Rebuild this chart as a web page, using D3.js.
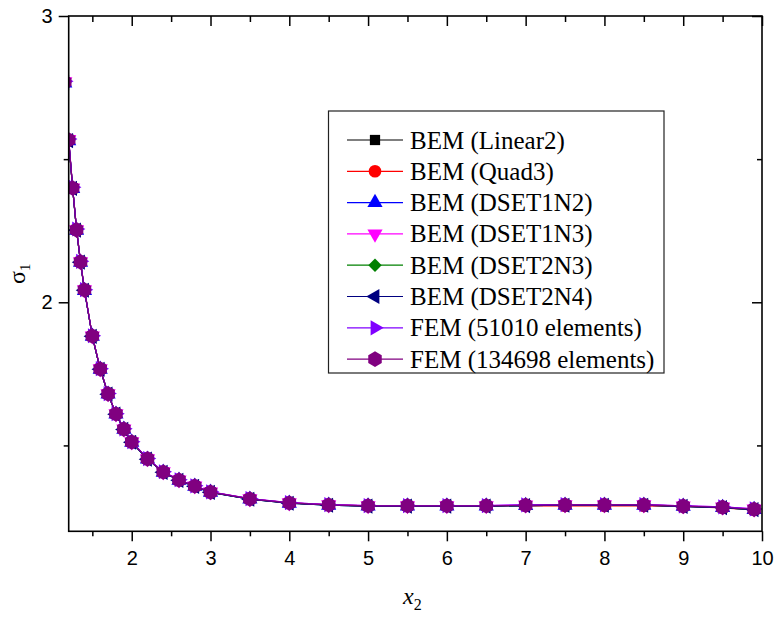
<!DOCTYPE html>
<html>
<head>
<meta charset="utf-8">
<script src="https://cdn.jsdelivr.net/npm/d3@7"></script>
<style>
  html, body { margin: 0; padding: 0; background: #fff; }
  svg { display: block; }
</style>
</head>
<body>
<svg id="chart" width="777" height="619"></svg>
<script>
// ---------------- DATA ----------------
const xValues = [1.15, 1.2, 1.25, 1.3, 1.35, 1.4, 1.5, 1.6, 1.7, 1.8, 1.9, 2.0, 2.2, 2.4, 2.6, 2.8, 3.0,
                 3.5, 4.0, 4.5, 5.0, 5.5, 6.0, 6.5, 7.0, 7.5, 8.0, 8.5, 9.0, 9.5, 9.9];

const bemLinear2  = [2.769, 2.567, 2.399, 2.253, 2.141, 2.043, 1.882, 1.767, 1.680, 1.610, 1.557, 1.512, 1.453, 1.407, 1.379, 1.358, 1.337,
                     1.313, 1.299, 1.292, 1.289, 1.289, 1.289, 1.289, 1.291, 1.292, 1.292, 1.292, 1.288, 1.284, 1.277];
const bemQuad3    = [2.769, 2.567, 2.399, 2.253, 2.141, 2.043, 1.882, 1.767, 1.680, 1.610, 1.557, 1.512, 1.453, 1.407, 1.379, 1.358, 1.337,
                     1.313, 1.299, 1.292, 1.289, 1.289, 1.289, 1.288, 1.289, 1.289, 1.289, 1.289, 1.287, 1.282, 1.275];
const bemDSET1N2  = [2.766, 2.564, 2.397, 2.251, 2.139, 2.041, 1.881, 1.766, 1.679, 1.609, 1.556, 1.511, 1.452, 1.406, 1.378, 1.357, 1.336,
                     1.312, 1.298, 1.291, 1.288, 1.288, 1.288, 1.288, 1.290, 1.291, 1.291, 1.291, 1.287, 1.283, 1.276];
const bemDSET1N3  = [2.771, 2.569, 2.400, 2.254, 2.142, 2.044, 1.883, 1.768, 1.681, 1.611, 1.558, 1.513, 1.454, 1.408, 1.380, 1.359, 1.338,
                     1.314, 1.300, 1.293, 1.290, 1.290, 1.290, 1.290, 1.292, 1.293, 1.293, 1.293, 1.289, 1.285, 1.278];
const bemDSET2N3  = [2.767, 2.565, 2.398, 2.252, 2.140, 2.042, 1.881, 1.766, 1.679, 1.609, 1.556, 1.511, 1.452, 1.406, 1.378, 1.357, 1.336,
                     1.312, 1.298, 1.291, 1.288, 1.288, 1.288, 1.288, 1.290, 1.291, 1.291, 1.291, 1.287, 1.283, 1.275];
const bemDSET2N4  = [2.767, 2.565, 2.398, 2.252, 2.140, 2.042, 1.881, 1.766, 1.679, 1.609, 1.556, 1.511, 1.452, 1.406, 1.378, 1.357, 1.336,
                     1.312, 1.298, 1.291, 1.288, 1.288, 1.288, 1.288, 1.290, 1.291, 1.291, 1.291, 1.287, 1.283, 1.276];
const fem51010    = [2.772, 2.570, 2.402, 2.256, 2.143, 2.044, 1.883, 1.768, 1.681, 1.611, 1.558, 1.513, 1.454, 1.408, 1.380, 1.359, 1.338,
                     1.314, 1.300, 1.293, 1.290, 1.290, 1.290, 1.290, 1.292, 1.293, 1.293, 1.293, 1.289, 1.285, 1.278];
const fem134698   = [2.769, 2.567, 2.399, 2.253, 2.141, 2.043, 1.882, 1.767, 1.680, 1.610, 1.557, 1.512, 1.453, 1.407, 1.379, 1.358, 1.337,
                     1.313, 1.299, 1.292, 1.289, 1.289, 1.289, 1.289, 1.291, 1.292, 1.292, 1.292, 1.288, 1.284, 1.277];

const seriesNames  = ["BEM (Linear2)", "BEM (Quad3)", "BEM (DSET1N2)", "BEM (DSET1N3)", "BEM (DSET2N3)", "BEM (DSET2N4)",
                      "FEM (51010 elements)", "FEM (134698 elements)"];
const seriesValues = [bemLinear2, bemQuad3, bemDSET1N2, bemDSET1N3, bemDSET2N3, bemDSET2N4, fem51010, fem134698];
const seriesColors = ["#000000", "#ff0000", "#0000ff", "#ff00ff", "#008000", "#000080", "#8000ff", "#800080"];
const seriesShapes = ["square", "circle", "up", "down", "diamond", "left", "right", "hexagon"];

const xMajorTicks = [2, 3, 4, 5, 6, 7, 8, 9, 10];
const xMinorTicks = [1.5, 2.5, 3.5, 4.5, 5.5, 6.5, 7.5, 8.5, 9.5];
const yMajorTicks = [2, 3];
const yMinorTicks = [1.5, 2.5];
const xDomain = [1.2, 10];
const yDomain = [1.2, 3];

// ---------------- LAYOUT ----------------
const svg = d3.select("#chart");
const L = 68.7, R = 762, T = 16, B = 531.3;

const x = d3.scaleLinear().domain(xDomain).range([L, R]);
const y = d3.scaleLinear().domain(yDomain).range([B, T]);

svg.append("defs").append("clipPath").attr("id", "plotclip")
  .append("rect").attr("x", L).attr("y", T).attr("width", R - L).attr("height", B - T);

// marker path generator
function markerPath(shape) {
  const tri = d3.symbol().type(d3.symbolTriangle).size(100)();
  switch (shape) {
    case "square":  return { d: d3.symbol().type(d3.symbolSquare).size(105)(), rot: 0 };
    case "circle":  return { d: d3.symbol().type(d3.symbolCircle).size(125)(), rot: 0 };
    case "up":      return { d: tri, rot: 0 };
    case "down":    return { d: tri, rot: 180 };
    case "left":    return { d: tri, rot: -90 };
    case "right":   return { d: tri, rot: 90 };
    case "diamond": return { d: d3.symbol().type(d3.symbolSquare).size(90)(), rot: 45 };
    case "hexagon": {
      const r = 7.8, pts = [];
      for (let k = 0; k < 6; k++) {
        const a = (-90 + 60 * k) * Math.PI / 180;
        pts.push([r * Math.cos(a), r * Math.sin(a)]);
      }
      return { d: "M" + pts.map(p => p[0].toFixed(2) + "," + p[1].toFixed(2)).join("L") + "Z", rot: 0 };
    }
  }
}

// ---------------- SERIES ----------------
const marks = svg.append("g").attr("clip-path", "url(#plotclip)");
const line = d3.line().x(d => x(d[0])).y(d => y(d[1]));

seriesValues.forEach((vals, i) => {
  const pts = xValues.map((xv, j) => [xv, vals[j]]);
  const g = marks.append("g");
  g.append("path").datum(pts).attr("d", line)
    .attr("fill", "none").attr("stroke", seriesColors[i]).attr("stroke-width", 1.2);
  const mp = markerPath(seriesShapes[i]);
  g.selectAll("path.m").data(pts).enter().append("path").attr("class", "m")
    .attr("d", mp.d)
    .attr("transform", d => `translate(${x(d[0])},${y(d[1])}) rotate(${mp.rot})`)
    .attr("fill", seriesColors[i]);
});

// ---------------- AXES ----------------
const fmt = d3.format("d");
function styleAxis(g) {
  g.select(".domain").remove();
  g.selectAll("line").attr("stroke", "#000").attr("stroke-width", 1.5);
  g.selectAll("text").attr("font-family", "'Liberation Sans', Arial, sans-serif").attr("font-size", 20).attr("fill", "#000");
}
// bottom
svg.append("g").attr("transform", `translate(0,${B})`)
  .call(d3.axisBottom(x).tickValues(xMajorTicks).tickFormat(fmt).tickSize(10).tickPadding(10)).call(styleAxis);
svg.append("g").attr("transform", `translate(0,${B})`)
  .call(d3.axisBottom(x).tickValues(xMinorTicks).tickFormat("").tickSize(5)).call(styleAxis);
// top (inward)
svg.append("g").attr("transform", `translate(0,${T})`)
  .call(d3.axisBottom(x).tickValues(xMajorTicks).tickFormat("").tickSize(10)).call(styleAxis);
svg.append("g").attr("transform", `translate(0,${T})`)
  .call(d3.axisBottom(x).tickValues(xMinorTicks).tickFormat("").tickSize(6)).call(styleAxis);
// left
svg.append("g").attr("transform", `translate(${L},0)`)
  .call(d3.axisLeft(y).tickValues(yMajorTicks).tickFormat(fmt).tickSize(10).tickPadding(6)).call(styleAxis);
svg.append("g").attr("transform", `translate(${L},0)`)
  .call(d3.axisLeft(y).tickValues(yMinorTicks).tickFormat("").tickSize(5)).call(styleAxis);
// right (inward)
svg.append("g").attr("transform", `translate(${R},0)`)
  .call(d3.axisLeft(y).tickValues(yMajorTicks).tickFormat("").tickSize(10)).call(styleAxis);
svg.append("g").attr("transform", `translate(${R},0)`)
  .call(d3.axisLeft(y).tickValues(yMinorTicks).tickFormat("").tickSize(5)).call(styleAxis);

// frame
svg.append("rect").attr("x", L).attr("y", T).attr("width", R - L).attr("height", B - T)
  .attr("fill", "none").attr("stroke", "#000").attr("stroke-width", 1.6);

// axis titles
const xt = svg.append("text").attr("x", 403).attr("y", 604)
  .attr("font-family", "'Liberation Serif', 'Times New Roman', serif").attr("font-size", 24).attr("fill", "#000");
xt.append("tspan").attr("font-style", "italic").text("x");
xt.append("tspan").attr("font-size", 16).attr("dy", 6).text("2");

const yt = svg.append("text").attr("transform", "translate(25,284) rotate(-90)")
  .attr("font-family", "'Liberation Serif', 'Times New Roman', serif").attr("font-size", 24).attr("fill", "#000");
yt.append("tspan").text("σ");
yt.append("tspan").attr("font-size", 15).attr("dy", 5).text("1");

// ---------------- LEGEND ----------------
const lg = svg.append("g");
lg.append("rect").attr("x", 328.5).attr("y", 111).attr("width", 335.5).attr("height", 262)
  .attr("fill", "#fff").attr("stroke", "#222").attr("stroke-width", 1.2);
seriesNames.forEach((name, i) => {
  const cy = 140 + i * 31.3;
  lg.append("line").attr("x1", 347).attr("x2", 403).attr("y1", cy).attr("y2", cy)
    .attr("stroke", seriesColors[i]).attr("stroke-width", 1.2);
  const mp = markerPath(seriesShapes[i]);
  lg.append("path").attr("d", mp.d).attr("transform", `translate(375,${cy}) rotate(${mp.rot})`)
    .attr("fill", seriesColors[i]);
  lg.append("text").attr("x", 410).attr("y", cy + 8.5)
    .attr("font-family", "'Liberation Serif', 'Times New Roman', serif").attr("font-size", 25).attr("fill", "#000")
    .text(name);
});
</script>
</body>
</html>
